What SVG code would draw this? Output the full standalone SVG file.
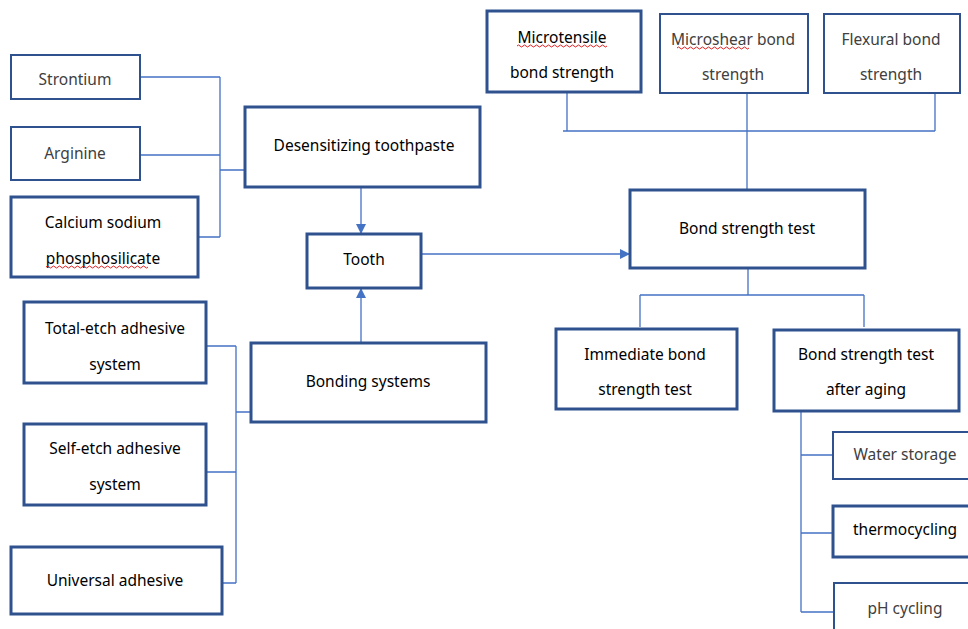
<svg xmlns="http://www.w3.org/2000/svg" width="968" height="629" viewBox="0 0 968 629">
<style>
.b{fill:#fff;stroke:#2F528F;stroke-width:3}
.t{fill:#fff;stroke:#2F528F;stroke-width:2}
.c{fill:none;stroke:#4472C4;stroke-width:1.3}
text{font-family:"Noto Sans","Open Sans",sans-serif;font-size:15.5px;text-anchor:middle;fill:#000}
text.g{fill:#404040}
.w{fill:none;stroke:#e02020;stroke-width:1}
</style>
<defs>
<marker id="ah" markerWidth="10" markerHeight="10" refX="9" refY="5" orient="auto" markerUnits="userSpaceOnUse">
<path d="M0,0 L10,5 L0,10 Z" fill="#4472C4"/>
</marker>
</defs>
<rect width="968" height="629" fill="#fff"/>
<g id="connectors">
<path class="c" d="M140,77 H220 M140,155 H220 M198,237 H220 M220,77 V237 M220,170 H245"/>
<path class="c" d="M361,188 V233" marker-end="url(#ah)"/>
<path class="c" d="M361,343 V289" marker-end="url(#ah)"/>
<path class="c" d="M421,254 H629" marker-end="url(#ah)"/>
<path class="c" d="M567,93 V131 M563,131 H935 M935,93 V131 M747,93 V190"/>
<path class="c" d="M748,268 V295 M640,295 H864 M640,295 V327 M864,295 V327"/>
<path class="c" d="M801,411 V612 M801,455 H833 M801,533 H833 M801,612 H834"/>
<path class="c" d="M206,346 H236 M206,472 H236 M222,583 H236 M236,346 V583 M236,412 H251"/>
</g>
<g id="strontium"><rect class="t" x="11" y="55" width="129" height="44"/><text class="g" x="75" y="85">Strontium</text></g>
<g id="arginine"><rect class="t" x="11" y="127" width="129" height="53"/><text class="g" x="75" y="159">Arginine</text></g>
<g id="calcium"><rect class="b" x="11" y="197" width="187" height="80"/><text x="103" y="228">Calcium sodium</text><text x="103" y="264">phosphosilicate</text><path class="w" d="M46,267 q1.5,-2 3,0 t3,0 t3,0 t3,0 t3,0 t3,0 t3,0 t3,0 t3,0 t3,0 t3,0 t3,0 t3,0 t3,0 t3,0 t3,0 t3,0 t3,0 t3,0 t3,0 t3,0 t3,0 t3,0 t3,0 t3,0 t3,0 t3,0 t3,0 t3,0 t3,0 t3,0 t3,0 t3,0 t3,0"/></g>
<g id="desensitizing"><rect class="b" x="245" y="107" width="235" height="80"/><text x="364" y="151">Desensitizing toothpaste</text></g>
<g id="tooth"><rect class="b" x="307" y="234" width="114" height="54"/><text x="364" y="265">Tooth</text></g>
<g id="bonding"><rect class="b" x="251" y="343" width="235" height="79"/><text x="368" y="387">Bonding systems</text></g>
<g id="microtensile"><rect class="b" x="487" y="11" width="154" height="81"/><text x="562" y="43">Microtensile</text><text x="562" y="78">bond strength</text><path class="w" d="M517,46 q1.5,-2 3,0 t3,0 t3,0 t3,0 t3,0 t3,0 t3,0 t3,0 t3,0 t3,0 t3,0 t3,0 t3,0 t3,0 t3,0 t3,0 t3,0 t3,0 t3,0 t3,0 t3,0 t3,0 t3,0 t3,0 t3,0 t3,0 t3,0 t3,0 t3,0 t3,0"/></g>
<g id="microshear"><rect class="t" x="660" y="14" width="148" height="79"/><text class="g" x="733" y="45">Microshear bond</text><text class="g" x="733" y="80">strength</text><path class="w" d="M677,48 q1.5,-2 3,0 t3,0 t3,0 t3,0 t3,0 t3,0 t3,0 t3,0 t3,0 t3,0 t3,0 t3,0 t3,0 t3,0 t3,0 t3,0 t3,0 t3,0 t3,0 t3,0 t3,0 t3,0 t3,0 t3,0"/></g>
<g id="flexural"><rect class="t" x="824" y="14" width="136" height="79"/><text class="g" x="891" y="45">Flexural bond</text><text class="g" x="891" y="80">strength</text></g>
<g id="bondtest"><rect class="b" x="630" y="190" width="235" height="78"/><text x="747" y="234">Bond strength test</text></g>
<g id="immediate"><rect class="b" x="556" y="329" width="181" height="80"/><text x="645" y="360">Immediate bond</text><text x="645" y="395">strength test</text></g>
<g id="aging"><rect class="b" x="774" y="330" width="185" height="81"/><text x="866" y="360">Bond strength test</text><text x="866" y="395">after aging</text></g>
<g id="water"><rect class="t" x="833" y="432" width="145" height="47"/><text class="g" x="905" y="460">Water storage</text></g>
<g id="thermo"><rect class="b" x="833" y="506" width="145" height="51"/><text x="905" y="535">thermocycling</text></g>
<g id="ph"><rect class="t" x="834" y="583" width="145" height="60"/><text class="g" x="905" y="614">pH cycling</text></g>
<g id="totaletch"><rect class="b" x="24" y="302" width="182" height="81"/><text x="115" y="334">Total-etch adhesive</text><text x="115" y="370">system</text></g>
<g id="selfetch"><rect class="b" x="24" y="424" width="182" height="81"/><text x="115" y="454">Self-etch adhesive</text><text x="115" y="490">system</text></g>
<g id="universal"><rect class="b" x="11" y="547" width="211" height="67"/><text x="115" y="586">Universal adhesive</text></g>
</svg>
